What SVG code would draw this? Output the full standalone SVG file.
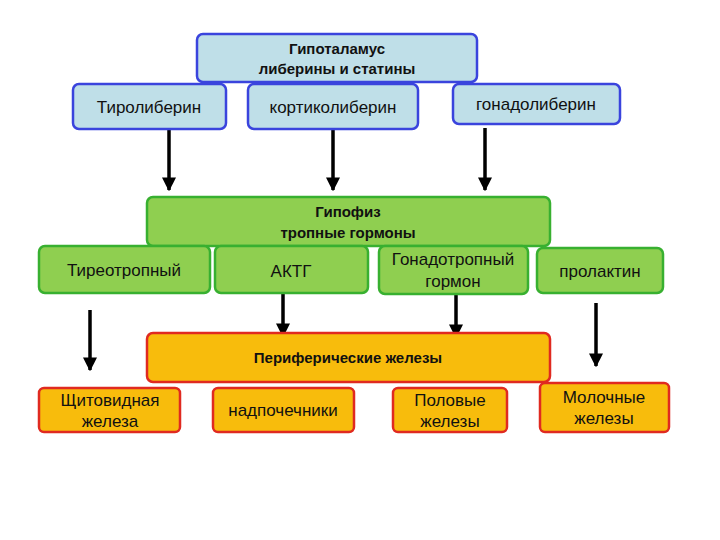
<svg xmlns="http://www.w3.org/2000/svg" width="720" height="540" viewBox="0 0 720 540">
<defs>
<marker id="ah" viewBox="0 0 10 10" refX="9" refY="5" markerWidth="4" markerHeight="4" orient="auto"><path d="M0,0 L10,5 L0,10 z" fill="#000"/></marker>
<style>
.b{fill:#bfdfe8;stroke:#3a44dd;stroke-width:2.5}
.g{fill:#8fcf50;stroke:#38b030;stroke-width:2.5}
.o{fill:#f8bc0c;stroke:#e02a20;stroke-width:2.5}
text{font-family:"Liberation Sans",Arial,sans-serif;font-size:17px;text-anchor:middle;fill:#111}
.h{font-weight:bold;font-size:15px}
.c line{stroke:#000;stroke-width:3.5;marker-end:url(#ah)}
</style>
</defs>
<g class="c" id="connectors">
<line x1="169" y1="130" x2="169" y2="190"/>
<line x1="333" y1="130" x2="333" y2="190"/>
<line x1="485" y1="128" x2="485" y2="190"/>
<line x1="90" y1="310" x2="90" y2="370"/>
<line x1="283" y1="293" x2="283" y2="336"/>
<line x1="456" y1="293" x2="456" y2="337"/>
<line x1="596" y1="303" x2="596" y2="366"/>
</g>
<g id="hypothalamus"><rect class="b" x="197" y="34" width="280" height="48" rx="6"/><text class="h" x="337" y="54">Гипоталамус</text><text class="h" x="337" y="74">либерины и статины</text></g>
<g id="tiro"><rect class="b" x="73" y="84" width="153" height="45" rx="6"/><text x="149" y="113">Тиролиберин</text></g>
<g id="kortiko"><rect class="b" x="248" y="84" width="170" height="45" rx="6"/><text x="333" y="113">кортиколиберин</text></g>
<g id="gonado"><rect class="b" x="453" y="84" width="167" height="40" rx="6"/><text x="536" y="110">гонадолиберин</text></g>
<g id="hypophysis"><rect class="g" x="147" y="197" width="403" height="49" rx="6"/><text class="h" x="348" y="217">Гипофиз</text><text class="h" x="348" y="238">тропные гормоны</text></g>
<g id="tireo"><rect class="g" x="39" y="246" width="171" height="47" rx="6"/><text x="124" y="276">Тиреотропный</text></g>
<g id="aktg"><rect class="g" x="215" y="246" width="153" height="47" rx="6"/><text x="291" y="277">АКТГ</text></g>
<g id="gonadotrop"><rect class="g" x="379" y="246" width="149" height="48" rx="6"/><text x="453" y="265">Гонадотропный</text><text x="453" y="287">гормон</text></g>
<g id="prolaktin"><rect class="g" x="537" y="248" width="126" height="45" rx="6"/><text x="600" y="277">пролактин</text></g>
<g id="peripheral"><rect class="o" x="147" y="333" width="403" height="49" rx="6"/><text class="h" x="348" y="363">Периферические железы</text></g>
<g id="thyroid"><rect class="o" x="39" y="388" width="141" height="44" rx="5"/><text x="110" y="406" font-size="16">Щитовидная</text><text x="110" y="427" font-size="16">железа</text></g>
<g id="adrenal"><rect class="o" x="213" y="388" width="141" height="44" rx="5"/><text x="283" y="416" font-size="15">надпочечники</text></g>
<g id="gonads"><rect class="o" x="393" y="388" width="114" height="44" rx="5"/><text x="450" y="406" font-size="16">Половые</text><text x="450" y="427" font-size="16">железы</text></g>
<g id="mammary"><rect class="o" x="540" y="383" width="129" height="49" rx="5"/><text x="604" y="403" font-size="16">Молочные</text><text x="604" y="424" font-size="16">железы</text></g>
</svg>
